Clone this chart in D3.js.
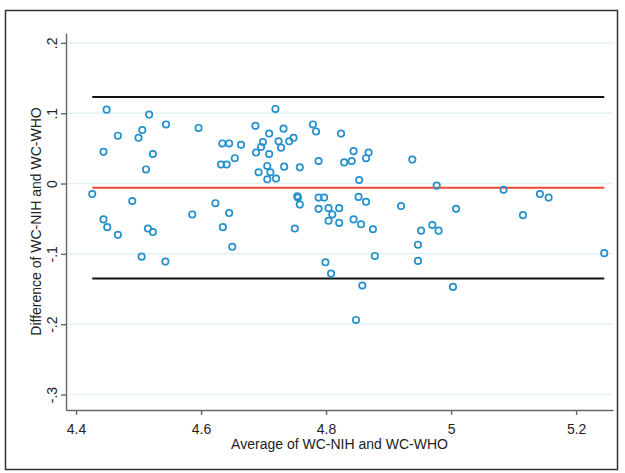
<!DOCTYPE html>
<html>
<head>
<meta charset="utf-8">
<script src="https://cdn.jsdelivr.net/npm/d3@7"></script>
<style>
  body { margin: 0; background: #fff; }
  text { font-family: "Liberation Sans", Arial, sans-serif; }
</style>
</head>
<body>
<script>
// averages (x) and differences (y)
var avgVals = [4.426, 4.444, 4.444, 4.449, 4.450, 4.467, 4.467, 4.490, 4.500, 4.505,
    4.506, 4.512, 4.515, 4.517, 4.523, 4.523, 4.543, 4.544, 4.586, 4.596,
    4.623, 4.634, 4.645, 4.632, 4.641, 4.635, 4.645, 4.650, 4.654, 4.664,
    4.687, 4.688, 4.692, 4.696, 4.699, 4.706, 4.706, 4.709, 4.709, 4.711,
    4.719, 4.720, 4.724, 4.728, 4.732, 4.733, 4.741, 4.748, 4.750, 4.754,
    4.755, 4.758, 4.758, 4.779, 4.784, 4.788, 4.788, 4.797, 4.788, 4.799,
    4.804, 4.804, 4.808, 4.810, 4.821, 4.821, 4.824, 4.829, 4.841, 4.844,
    4.844, 4.853, 4.852, 4.856, 4.864, 4.868, 4.864, 4.875, 4.878, 4.858,
    4.848, 4.920, 4.938, 4.947, 4.947, 4.952, 5.003, 4.970, 4.977, 4.980,
    5.008, 5.084, 5.115, 5.142, 5.156, 5.245];
var diffVals = [-0.015, 0.045, -0.051, 0.105, -0.062, 0.068, -0.073, -0.025, 0.065, -0.104,
    0.076, 0.020, -0.064, 0.098, 0.042, -0.069, -0.111, 0.084, -0.044, 0.079,
    -0.028, 0.057, 0.057, 0.027, 0.027, -0.062, -0.042, -0.090, 0.036, 0.055,
    0.082, 0.044, 0.016, 0.052, 0.059, 0.006, 0.025, 0.071, 0.042, 0.016,
    0.106, 0.007, 0.060, 0.051, 0.078, 0.024, 0.060, 0.065, -0.064, -0.018,
    -0.020, 0.023, -0.030, 0.084, 0.074, 0.032, -0.020, -0.020, -0.036, -0.112,
    -0.035, -0.053, -0.128, -0.044, -0.035, -0.056, 0.071, 0.030, 0.032, 0.046,
    -0.051, 0.005, -0.019, -0.058, 0.036, 0.044, -0.026, -0.065, -0.103, -0.145,
    -0.194, -0.032, 0.034, -0.087, -0.110, -0.067, -0.147, -0.059, -0.003, -0.067,
    -0.036, -0.009, -0.045, -0.015, -0.020, -0.099];

var meanDiff = -0.006;
var upperLimit = 0.123;
var lowerLimit = -0.135;

var xTicks = [4.4, 4.6, 4.8, 5, 5.2];
var xTickLabels = ["4.4", "4.6", "4.8", "5", "5.2"];
var yTicks = [-0.3, -0.2, -0.1, 0, 0.1, 0.2];
var yTickLabels = ["-.3", "-.2", "-.1", "0", ".1", ".2"];

var width = 625, height = 473;

var svg = d3.select("body").append("svg")
    .attr("width", width)
    .attr("height", height);

// outer frame
svg.append("rect")
    .attr("x", 5.5).attr("y", 10.5)
    .attr("width", 612).attr("height", 459)
    .attr("fill", "none")
    .attr("stroke", "#333")
    .attr("stroke-width", 1.5);

var x = d3.scaleLinear().domain([4.384, 5.259]).range([66, 613]);
var y = d3.scaleLinear().domain([-0.322, 0.214]).range([410, 33]);

// light grid
svg.append("g").selectAll("line")
    .data(yTicks)
    .enter().append("line")
    .attr("x1", x.range()[0]).attr("x2", x.range()[1])
    .attr("y1", function(d) { return y(d); })
    .attr("y2", function(d) { return y(d); })
    .attr("stroke", "#e4f1f5")
    .attr("stroke-width", 1.5);

// axes
var xAxis = svg.append("g")
    .attr("transform", "translate(0," + y.range()[0] + ")")
    .call(d3.axisBottom(x).tickValues(xTicks).tickSize(5).tickSizeOuter(0)
        .tickFormat(function(d, i) { return xTickLabels[i]; }));
xAxis.selectAll("text").attr("font-size", 14).attr("fill", "#222").attr("dy", "1.15em");

var yAxis = svg.append("g")
    .attr("transform", "translate(" + x.range()[0] + ",0)")
    .call(d3.axisLeft(y).tickValues(yTicks).tickSize(5).tickSizeOuter(0)
        .tickFormat(function(d, i) { return yTickLabels[i]; }));
yAxis.selectAll(".tick text")
    .attr("font-size", 14).attr("fill", "#222")
    .attr("x", null).attr("dy", null)
    .attr("text-anchor", "middle")
    .attr("transform", "translate(-9,0) rotate(-90)");

svg.selectAll(".domain, .tick line").attr("stroke", "#666").attr("stroke-width", 1.4);

// limits of agreement and mean
var xExt = d3.extent(avgVals);
svg.append("g").selectAll("line")
    .data([upperLimit, lowerLimit])
    .enter().append("line")
    .attr("x1", x(xExt[0])).attr("x2", x(xExt[1]))
    .attr("y1", function(d) { return y(d); })
    .attr("y2", function(d) { return y(d); })
    .attr("stroke", "#111")
    .attr("stroke-width", 2);

svg.append("line")
    .attr("x1", x(xExt[0])).attr("x2", x(xExt[1]))
    .attr("y1", y(meanDiff)).attr("y2", y(meanDiff))
    .attr("stroke", "#ef4a31")
    .attr("stroke-width", 2);

// points
svg.append("g").selectAll("circle")
    .data(avgVals)
    .enter().append("circle")
    .attr("cx", function(d) { return x(d); })
    .attr("cy", function(d, i) { return y(diffVals[i]); })
    .attr("r", 3.2)
    .attr("fill", "none")
    .attr("stroke", "#2590cc")
    .attr("stroke-width", 1.7);

// titles
svg.append("text")
    .attr("x", (x.range()[0] + x.range()[1]) / 2)
    .attr("y", 449)
    .attr("text-anchor", "middle")
    .attr("font-size", 14)
    .attr("fill", "#222")
    .text("Average of WC-NIH and WC-WHO");

svg.append("text")
    .attr("transform", "translate(41," + (y.range()[0] + y.range()[1]) / 2 + ") rotate(-90)")
    .attr("text-anchor", "middle")
    .attr("font-size", 14)
    .attr("fill", "#222")
    .text("Difference of WC-NIH and WC-WHO");
</script>
</body>
</html>
